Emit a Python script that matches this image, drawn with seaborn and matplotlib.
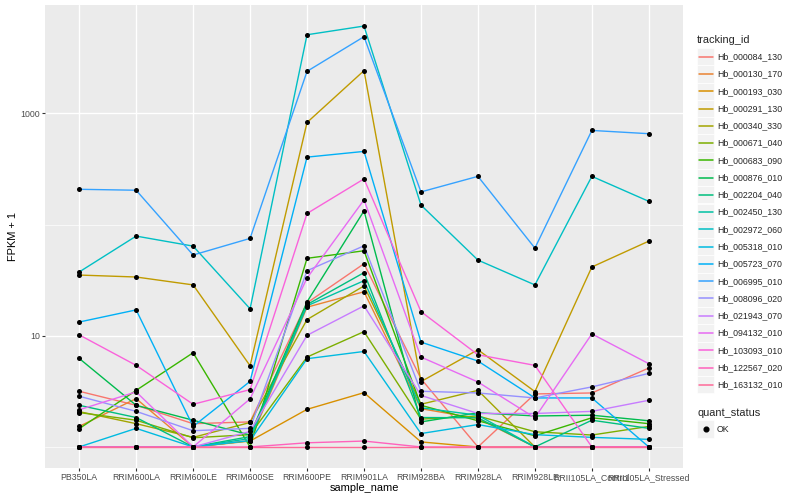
import pandas as pd
import numpy as np
import matplotlib
matplotlib.use("Agg")
import matplotlib.pyplot as plt
from matplotlib.lines import Line2D
from matplotlib.patches import Rectangle
from matplotlib.ticker import FixedLocator, NullFormatter
import seaborn as sns


samples = ["PB350LA", "RRIM600LA", "RRIM600LE", "RRIM600SE", "RRIM600PE",
           "RRIM901LA", "RRIM928BA", "RRIM928LA", "RRIM928LE",
           "RRII105LA_Control", "RRII105LA_Stressed"]

tracking_ids = ["Hb_000084_130", "Hb_000130_170", "Hb_000193_030", "Hb_000291_130",
                "Hb_000340_330", "Hb_000671_040", "Hb_000683_090", "Hb_000876_010",
                "Hb_002204_040", "Hb_002450_130", "Hb_002972_060", "Hb_005318_010",
                "Hb_005723_070", "Hb_006995_010", "Hb_008096_020", "Hb_021943_070",
                "Hb_094132_010", "Hb_103093_010", "Hb_122567_020", "Hb_163132_010"]

# ggplot default hue palette for 20 levels
colors = ["#F8766D", "#EA8331", "#D89000", "#C09B00", "#A3A500", "#7CAE00",
          "#39B600", "#00BB4E", "#00BF7D", "#00C1A3", "#00BFC4", "#00BAE0",
          "#00B0F6", "#35A2FF", "#9590FF", "#C77CFF", "#E76BF3", "#FA62DB",
          "#FF62BC", "#FF6A98"]

# FPKM + 1 per gene, in sample order
hb_000084_130 = [3.17, 2.37, 1.62, 1.68, 19.8, 44.5, 4.11, 1.0, 3.0, 3.06, 5.13]
hb_000130_170 = [1.53, 2.72, 1.0, 1.14, 18.1, 24.9, 2.21, 1.80, 1.0, 1.0, 1.0]
hb_000193_030 = [1.0, 1.0, 1.0, 1.13, 2.18, 3.08, 1.11, 1.0, 1.0, 1.0, 1.0]
hb_000291_130 = [35.2, 33.8, 28.7, 5.38, 830, 2430, 3.87, 7.49, 3.15, 41.6, 71.1]
hb_000340_330 = [2.08, 1.62, 1.22, 1.66, 14.0, 28.1, 2.42, 3.23, 1.0, 1.0, 1.0]
hb_000671_040 = [2.04, 1.74, 1.21, 1.29, 6.44, 10.9, 1.78, 1.90, 1.37, 1.28, 1.53]
hb_000683_090 = [1.46, 3.23, 7.04, 1.0, 49.8, 58.2, 2.37, 1.72, 1.26, 1.83, 1.62]
hb_000876_010 = [6.26, 2.37, 1.74, 1.28, 20.2, 133, 1.68, 2.03, 1.90, 1.93, 1.72]
hb_002204_040 = [2.37, 1.84, 1.0, 1.24, 19.1, 37.0, 1.84, 1.83, 1.0, 1.74, 1.47]
hb_002450_130 = [1.0, 1.0, 1.0, 1.19, 18.6, 31.3, 2.25, 1.93, 1.0, 1.0, 1.0]
hb_002972_060 = [37.5, 78.9, 64.1, 17.5, 5110, 6120, 150, 48.0, 28.7, 272, 162]
hb_005318_010 = [1.0, 1.47, 1.0, 1.14, 6.22, 7.23, 1.32, 1.59, 1.29, 1.22, 1.17]
hb_005723_070 = [13.3, 17.1, 1.53, 3.89, 405, 456, 8.78, 5.93, 2.76, 2.76, 1.0]
hb_006995_010 = [208, 204, 53.3, 75.2, 2395, 4910, 197, 272, 61.5, 704, 658]
hb_008096_020 = [2.86, 2.09, 1.40, 1.47, 38.5, 64.5, 3.17, 3.06, 2.76, 3.47, 4.59]
hb_021943_070 = [1.0, 1.0, 1.0, 1.38, 10.1, 18.6, 2.91, 2.00, 2.00, 2.09, 2.63]
hb_094132_010 = [2.16, 3.13, 1.0, 2.71, 33.1, 167, 6.44, 3.84, 1.83, 10.4, 5.61]
hb_103093_010 = [10.2, 5.42, 2.42, 3.28, 126, 258, 16.5, 6.75, 5.42, 1.0, 1.0]
hb_122567_020 = [1.0, 1.0, 1.0, 1.0, 1.09, 1.13, 1.0, 1.0, 1.0, 1.0, 1.0]
hb_163132_010 = [1.0, 1.0, 1.0, 1.0, 1.0, 1.0, 1.0, 1.0, 1.0, 1.0, 1.0]

gene_values = [hb_000084_130, hb_000130_170, hb_000193_030, hb_000291_130,
               hb_000340_330, hb_000671_040, hb_000683_090, hb_000876_010,
               hb_002204_040, hb_002450_130, hb_002972_060, hb_005318_010,
               hb_005723_070, hb_006995_010, hb_008096_020, hb_021943_070,
               hb_094132_010, hb_103093_010, hb_122567_020, hb_163132_010]

# long table, like the cummeRbund expression frame
rows = []
for gid, vals in zip(tracking_ids, gene_values):
    for i, (s, v) in enumerate(zip(samples, vals)):
        rows.append({"tracking_id": gid, "sample_name": s, "pos": i,
                     "fpkm1": v, "quant_status": "OK"})
df = pd.DataFrame(rows)

sns.set_theme(style="darkgrid", rc={"axes.facecolor": "#EBEBEB",
                                    "grid.color": "white"})
plt.rcParams["font.family"] = ["Liberation Sans", "DejaVu Sans"]

W, H = 800, 500
fig = plt.figure(figsize=(8, 5), dpi=100)
ax = fig.add_axes([45 / W, 1 - 468 / H, 638 / W, 463 / H])

sns.lineplot(data=df, x="pos", y="fpkm1", hue="tracking_id", hue_order=tracking_ids,
             palette=colors, estimator=None, sort=False, legend=False,
             linewidth=1.0, ax=ax)
sns.scatterplot(data=df, x="pos", y="fpkm1", color="black", s=13, linewidth=0,
                legend=False, ax=ax, zorder=3)

# log10 y with ggplot style 5% expansion
ax.set_yscale("log")
lo, hi = np.log10(df["fpkm1"].min()), np.log10(df["fpkm1"].max())
pad = 0.05 * (hi - lo)
ax.set_ylim(10 ** (lo - pad), 10 ** (hi + pad))
ax.set_xlim(-0.6, len(samples) - 0.4)

ax.set_yticks([10, 1000])
ax.set_yticklabels(["10", "1000"])
ax.yaxis.set_minor_locator(FixedLocator([1, 100]))
ax.yaxis.set_minor_formatter(NullFormatter())
ax.set_xticks(range(len(samples)))
ax.set_xticklabels(samples)

ax.grid(which="major", color="white", linewidth=1.0)
ax.grid(which="minor", axis="y", color="white", linewidth=0.5)
ax.set_axisbelow(True)
ax.tick_params(which="major", bottom=True, left=True, length=2, width=0.8,
               color="#333333", labelsize=6.3, labelcolor="#4D4D4D", pad=1.6)
ax.tick_params(which="minor", length=0)
for sp in ax.spines.values():
    sp.set_visible(False)

ax.set_xlabel("sample_name", fontsize=7.9, color="black")
ax.xaxis.label.set_va("center")
ax.xaxis.set_label_coords(0.5, -20 / 463)
ax.set_ylabel("FPKM + 1", fontsize=7.9, color="black")
ax.yaxis.label.set_va("center")
ax.yaxis.set_label_coords(-32 / 638, 0.5)


def fx(px):
    return px / W


def fy(py):
    return 1 - py / H


# legend drawn by hand, ggplot layout
fig.text(fx(697), fy(40), "tracking_id", fontsize=7.9, va="center", ha="left")
for i, (gid, c) in enumerate(zip(tracking_ids, colors)):
    yc = 56.7 + i * 17.27
    fig.add_artist(Rectangle((fx(697), fy(yc + 8.6)), 17.2 / W, 17.2 / H,
                             transform=fig.transFigure, facecolor="#F2F2F2",
                             edgecolor="white", linewidth=0.5))
    fig.add_artist(Line2D([fx(698.7), fx(712.5)], [fy(yc), fy(yc)],
                          transform=fig.transFigure, color=c, linewidth=1.1))
    fig.text(fx(717), fy(yc), gid, fontsize=6.3, va="center", ha="left")

fig.text(fx(697), fy(413), "quant_status", fontsize=7.9, va="center", ha="left")
fig.add_artist(Rectangle((fx(697), fy(429 + 8.6)), 17.2 / W, 17.2 / H,
                         transform=fig.transFigure, facecolor="#F2F2F2",
                         edgecolor="white", linewidth=0.5))
fig.add_artist(Line2D([fx(705.5)], [fy(429)], transform=fig.transFigure,
                      marker="o", markersize=3.4, color="black", linestyle="none"))
fig.text(fx(717), fy(429), "OK", fontsize=6.3, va="center", ha="left")

fig.savefig("out.png", dpi=100)
plt.close()
